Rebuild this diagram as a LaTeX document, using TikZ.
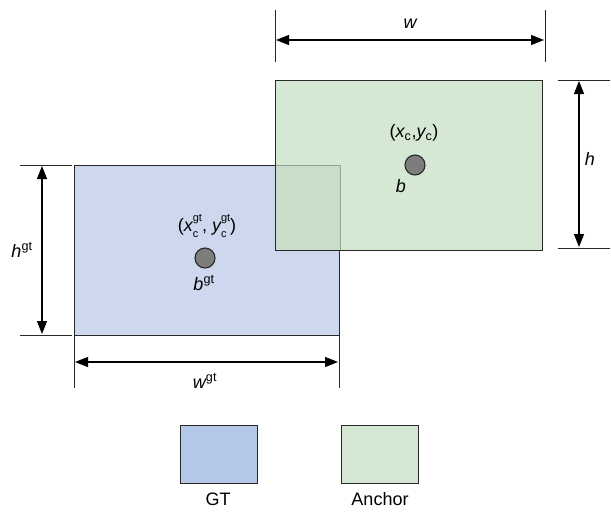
\documentclass[tikz,border=0pt]{standalone}
\usepackage{fontspec}
\setmainfont{Liberation Sans}
\usetikzlibrary{arrows.meta}
\definecolor{gtfill}{RGB}{205,216,238}
\definecolor{gtleg}{RGB}{180,199,231}
\definecolor{ancfill}{RGB}{213,232,212}
\definecolor{ovfill}{RGB}{201,222,202}
\definecolor{edge}{RGB}{40,40,40}
\definecolor{dotfill}{RGB}{125,125,125}
\newcommand\smalltxt[1]{{\fontsize{11}{11}\selectfont #1}}
\newcommand\supsub[2]{\rlap{\raisebox{0.55em}{\smalltxt{#1}}}\rlap{\raisebox{-0.3em}{\smalltxt{#2}}}\hphantom{\smalltxt{#1}}}
\begin{document}
\begin{tikzpicture}[x=1pt,y=-1pt,
  font=\fontsize{18}{21}\selectfont,
  boxstyle/.style={draw=edge,line width=1pt,inner sep=0pt,anchor=north west},
  tickline/.style={draw=edge,line width=0.9pt},
  dimarrow/.style={draw=black,line width=1.1pt,{Triangle[length=13pt,width=10pt]}-{Triangle[length=13pt,width=10pt]}},
  dotstyle/.style={circle,draw=edge,line width=1.1pt,fill=dotfill,minimum size=20pt,inner sep=0pt},
  lbl/.style={inner sep=0pt}]
\useasboundingbox (0,0) rectangle (611,512);
% GT box
\node[boxstyle,fill=gtfill,minimum width=265pt,minimum height=170pt] (gt) at (74,165) {};
% Anchor box (fill first, border after overlap)
\node[boxstyle,draw=none,fill=ancfill,minimum width=266pt,minimum height=169pt] (anc) at (275,80) {};
% overlap region
\fill[ovfill] (anc.west |- gt.north) rectangle (gt.east |- anc.south);
\draw[edge,draw opacity=0.35,line width=1pt] (anc.west |- gt.north) -| (gt.east |- anc.south);
\draw[edge,line width=1pt] (anc.north west) rectangle (anc.south east);
% dots
\node[dotstyle] (b) at (415,165) {};
\node[dotstyle] (bgt) at (205,258) {};
\node[lbl] (xc) at (414,133) {({\itshape x}\textsubscript{c},{\itshape y}\textsubscript{c})};
\node[lbl] (bl) at (401,186) {\itshape b};
\node[lbl] (xcgt) at (207,226) {({\itshape x}\supsub{gt}{c}, {\itshape y}\supsub{gt}{c})};
\node[lbl] (bgtl) at (204,283) {{\itshape b}\textsuperscript{gt}};
% w dimension
\coordinate (w1a) at (275,10); \coordinate (w1b) at (275,62);
\coordinate (w2a) at (545,10); \coordinate (w2b) at (545,62);
\draw[tickline] (w1a) -- (w1b);
\draw[tickline] (w2a) -- (w2b);
\coordinate (wl) at (276,40); \coordinate (wr) at (544,40);
\draw[dimarrow] (wl) -- (wr);
\node[lbl] (wlab) at (410,24) {\itshape w};
% h dimension
\coordinate (h1a) at (558,80); \coordinate (h1b) at (610,80);
\coordinate (h2a) at (558,248); \coordinate (h2b) at (610,248);
\draw[tickline] (h1a) -- (h1b);
\draw[tickline] (h2a) -- (h2b);
\coordinate (ht) at (579,81); \coordinate (hb) at (579,247);
\draw[dimarrow] (ht) -- (hb);
\node[lbl] (hlab) at (590,159) {\itshape h};
% hgt dimension
\coordinate (g1a) at (20,165); \coordinate (g1b) at (72,165);
\coordinate (g2a) at (20,335); \coordinate (g2b) at (72,335);
\draw[tickline] (g1a) -- (g1b);
\draw[tickline] (g2a) -- (g2b);
\coordinate (gt1) at (42,166); \coordinate (gb1) at (42,334);
\draw[dimarrow] (gt1) -- (gb1);
\node[lbl] (hgtlab) at (22,250) {{\itshape h}\textsuperscript{gt}};
% wgt dimension
\coordinate (v1a) at (74,335); \coordinate (v1b) at (74,388);
\coordinate (v2a) at (339,335); \coordinate (v2b) at (339,388);
\draw[tickline] (v1a) -- (v1b);
\draw[tickline] (v2a) -- (v2b);
\coordinate (vl) at (75,362); \coordinate (vr) at (338,362);
\draw[dimarrow] (vl) -- (vr);
\node[lbl] (wgtlab) at (205,381) {{\itshape w}\textsuperscript{gt}};
% legend
\node[boxstyle,fill=gtleg,minimum width=77pt,minimum height=58pt] (leggt) at (180,425) {};
\node[boxstyle,fill=ancfill,minimum width=77pt,minimum height=58pt] (leganc) at (341,425) {};
\node[lbl] (leggtl) at (218,499) {GT};
\node[lbl] (legancl) at (380,499) {Anchor};
\end{tikzpicture}
\end{document}
